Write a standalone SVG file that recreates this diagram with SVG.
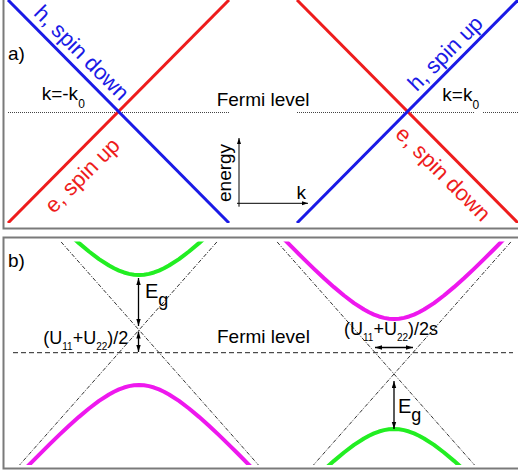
<svg xmlns="http://www.w3.org/2000/svg" xmlns:xlink="http://www.w3.org/1999/xlink" width="518" height="474" viewBox="0 0 518 474">
<style>
text{font-family:"Liberation Sans",Arial,sans-serif;fill:#000}
.t19{font-size:19px}
.t18{font-size:18px}
.sub{font-size:10px}
.sub12{font-size:12px}
.rot{font-size:22px;text-anchor:middle}
.frame{fill:none;stroke:#7a7a7a;stroke-width:2}
.band{fill:none;stroke-width:3}
.red{stroke:#ee1c1c}
.blue{stroke:#1a1ae6}
.hyp{fill:none;stroke-width:4;stroke-linejoin:round;stroke-linecap:butt}
.green{stroke:#22ee22}
.mag{stroke:#ee18ee}
.asym{stroke:#333;stroke-width:1;stroke-dasharray:4 1.5 1 1.5;fill:none}
.dot{stroke:#444;stroke-width:1;stroke-dasharray:1 1;fill:none}
.dash{stroke:#222;stroke-width:1;stroke-dasharray:5 3;fill:none}
.arr{stroke:#000;stroke-width:1.3;fill:none;marker-start:url(#ah);marker-end:url(#ah)}
.axis{stroke:#000;stroke-width:1;fill:none;marker-end:url(#ax)}
</style>
<defs>
<marker id="ah" markerUnits="userSpaceOnUse" markerWidth="8" markerHeight="6" refX="7" refY="2.5" orient="auto-start-reverse">
<path d="M0,0.3 L7,2.5 L0,4.7 z" fill="#000"/>
</marker>
<marker id="ax" markerUnits="userSpaceOnUse" markerWidth="7" markerHeight="5" refX="6" refY="2" orient="auto">
<path d="M0,0 L6,2 L0,4 z" fill="#000"/>
</marker>
<path id="hyp" d="M-130,-155.64 L-120,-145.22 L-110,-134.92 L-100,-124.78 L-90,-114.83 L-80,-105.13 L-70,-95.77 L-60,-86.84 L-50,-78.49 L-40,-70.94 L-30,-64.45 L-25,-61.72 L-20,-59.39 L-15,-57.51 L-10,-56.13 L-5,-55.28 L0,-55 L5,-55.28 L10,-56.13 L15,-57.51 L20,-59.39 L25,-61.72 L30,-64.45 L40,-70.94 L50,-78.49 L60,-86.84 L70,-95.77 L80,-105.13 L90,-114.83 L100,-124.78 L110,-134.92 L120,-145.22 L130,-155.64"/>
<clipPath id="clipB"><rect x="0" y="241.5" width="518" height="223.5"/></clipPath>
<clipPath id="clipA"><rect x="0" y="0" width="518" height="223"/></clipPath>
</defs>
<rect x="0" y="0" width="518" height="474" fill="#fff"/>

<g id="panel-a">
<rect class="frame" x="3.5" y="-10" width="530" height="238.5"/>
<g id="fermi-a">
<line class="dot" x1="8" y1="112.5" x2="229" y2="112.5"/>
<line class="dot" x1="297" y1="112.5" x2="474" y2="112.5"/>
<line class="dot" x1="483" y1="112.5" x2="518" y2="112.5"/>
<text class="t19" x="216.7" y="106">Fermi level</text>
</g>
<g id="bands-left" clip-path="url(#clipA)">
<line class="band red" x1="8" y1="223" x2="229" y2="0"/>
<line class="band blue" x1="8" y1="0" x2="229" y2="223"/>
</g>
<g id="bands-right" clip-path="url(#clipA)">
<line class="band red" x1="297" y1="0" x2="518" y2="223"/>
<line class="band blue" x1="297" y1="223" x2="518" y2="0"/>
</g>
<text class="t19" x="8" y="60">a)</text>
<text class="t19" x="41.7" y="100">k=-k<tspan class="sub12" dy="8">0</tspan></text>
<text class="t19" x="442.3" y="100.5">k=k<tspan class="sub12" dy="8">0</tspan></text>
<text class="rot" style="fill:#1a1ae6" transform="translate(76.5,58) rotate(45)">h, spin down</text>
<text class="rot" style="fill:#ee1c1c" transform="translate(87.5,180.5) rotate(-45)">e, spin up</text>
<text class="rot" style="fill:#1a1ae6" transform="translate(450.5,58.5) rotate(-45)">h, spin up</text>
<text class="rot" style="fill:#ee1c1c" transform="translate(438,179) rotate(45)">e, spin down</text>
<g id="axes">
<line class="axis" x1="239" y1="206.7" x2="239" y2="138"/>
<line class="axis" x1="237" y1="203.3" x2="308" y2="203.3"/>
<text class="t19" transform="translate(231,202) rotate(-90)">energy</text>
<text class="t19" x="296.5" y="199.3">k</text>
</g>
</g>

<g id="panel-b">
<rect class="frame" x="3.5" y="237.5" width="530" height="231"/>
<line class="dash" x1="13" y1="352.7" x2="513" y2="352.7"/>
<text class="t19" x="217" y="343">Fermi level</text>
<g id="asymptotes" clip-path="url(#clipB)">
<line class="asym" x1="24" y1="200" x2="289.4" y2="500"/>
<line class="asym" x1="254" y1="200" x2="-11.4" y2="500"/>
<line class="asym" x1="240" y1="200" x2="505.5" y2="500"/>
<line class="asym" x1="548" y1="200" x2="282.5" y2="500"/>
</g>
<g id="bands-b" clip-path="url(#clipB)">
<use xlink:href="#hyp" href="#hyp" class="hyp green" transform="translate(139,330)"/>
<use xlink:href="#hyp" href="#hyp" class="hyp mag" transform="translate(139,330) scale(1,-1)"/>
<use xlink:href="#hyp" href="#hyp" class="hyp mag" transform="translate(394,374)"/>
<use xlink:href="#hyp" href="#hyp" class="hyp green" transform="translate(394,374) scale(1,-1)"/>
</g>
<g id="arrows">
<line class="arr" x1="138.5" y1="278" x2="138.5" y2="326"/>
<line class="arr" x1="138.5" y1="331.5" x2="138.5" y2="352"/>
<line class="arr" x1="394" y1="381" x2="394" y2="429"/>
<line class="arr" x1="375" y1="347.5" x2="413" y2="347.5"/>
</g>
<text class="t19" x="8" y="267">b)</text>
<text style="font-size:20px" x="145" y="298">E<tspan style="font-size:18px" dy="8">g</tspan></text>
<text style="font-size:20px" x="398" y="413">E<tspan style="font-size:18px" dy="8">g</tspan></text>
<text class="t18" x="43.3" y="344">(U<tspan class="sub" dy="6">11</tspan><tspan dy="-6">+U</tspan><tspan class="sub" dy="6">22</tspan><tspan dy="-6">)/2</tspan></text>
<text class="t18" x="344" y="334.5">(U<tspan class="sub" dy="6">11</tspan><tspan dy="-6">+U</tspan><tspan class="sub" dy="6">22</tspan><tspan dy="-6">)/2s</tspan></text>
</g>
</svg>
